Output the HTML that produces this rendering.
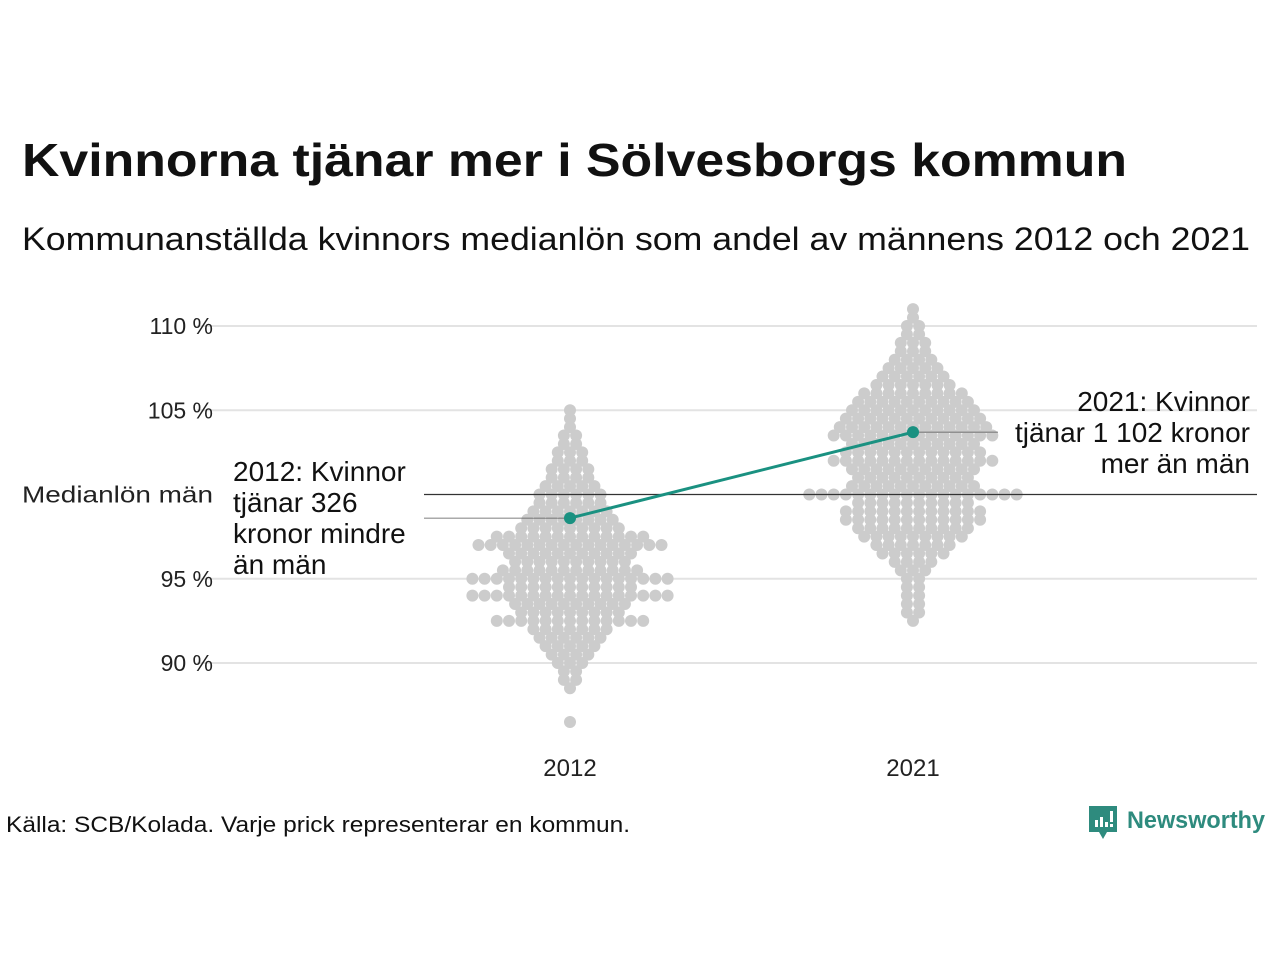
<!DOCTYPE html>
<html><head><meta charset="utf-8"><style>
html,body{margin:0;padding:0;background:#fff;}
svg{display:block;font-family:"Liberation Sans",sans-serif;}
</style></head><body>
<svg id="chart" width="1280" height="960" viewBox="0 0 1280 960">
<text x="22" y="176" font-size="46" font-weight="bold" fill="#111" textLength="1105" lengthAdjust="spacingAndGlyphs">Kvinnorna tjänar mer i Sölvesborgs kommun</text>
<text x="22" y="250" font-size="32" fill="#111" textLength="1228" lengthAdjust="spacingAndGlyphs">Kommunanställda kvinnors medianlön som andel av männens 2012 och 2021</text>
<g id="grid"></g>
<g id="dots"></g>
<g id="ann"></g>
<text x="6" y="832" font-size="22" fill="#111" textLength="624" lengthAdjust="spacingAndGlyphs">Källa: SCB/Kolada. Varje prick representerar en kommun.</text>
<g>
<path d="M1089 806 h28 v26 h-10 l-4 7 l-4 -7 h-10 z" fill="#2e8b7e"/>
<rect x="1095" y="820" width="3" height="7" fill="#fff"/><rect x="1100" y="817" width="3" height="10" fill="#fff"/><rect x="1105" y="822" width="3" height="5" fill="#fff"/><rect x="1110" y="811" width="3" height="11" fill="#fff"/><rect x="1110" y="824" width="3" height="3" fill="#fff"/>
<text x="1127" y="828" font-size="24" font-weight="bold" fill="#2e8b7e" textLength="138" lengthAdjust="spacingAndGlyphs">Newsworthy</text>
</g>
</svg>
<script>
const years = ["2012","2021"];
const rowValues2012 = [105,104.5,104,103.5,103,102.5,102,101.5,101,100.5,100,99.5,99,98.5,98,97.5,97,96.5,96,95.5,95,94.5,94,93.5,93,92.5,92,91.5,91,90.5,90,89.5,89,88.5,86.5];
const rowCounts2012 = [1,1,1,2,2,3,3,4,4,5,6,6,7,8,9,13,16,11,10,12,17,11,17,10,9,13,7,6,5,4,3,2,2,1,1];
const rowValues2021 = [111,110.5,110,109.5,109,108.5,108,107.5,107,106.5,106,105.5,105,104.5,104,103.5,103,102.5,102,101.5,101,100.5,100,99.5,99,98.5,98,97.5,97,96.5,96,95.5,95,94.5,94,93.5,93,92.5];
const rowCounts2021 = [1,1,2,2,3,3,4,5,6,7,9,10,11,12,13,14,11,12,14,11,10,11,18,10,12,12,10,9,7,6,4,3,2,2,2,2,2,1];
const medians = [98.6, 103.7];
const yTicks = [90,95,105,110];
const yTickLabels = ["90 %","95 %","105 %","110 %"];

const NS="http://www.w3.org/2000/svg";
const y = v => 494.5 + (100 - v) * 16.85;
const x = i => 570 + i * 343;
function mk(tag, attrs, parent){const e=document.createElementNS(NS,tag);for(const k in attrs)e.setAttribute(k,attrs[k]);parent.appendChild(e);return e;}
const grid=document.getElementById('grid'), dots=document.getElementById('dots'), ann=document.getElementById('ann');

yTicks.forEach((t,i)=>{
  const l=mk('line',{x1:197,x2:1257,y1:y(t),y2:y(t),stroke:'#e3e3e3','stroke-width':2},grid);
  
  
  const tx=mk('text',{x:213,y:y(t)+8,'font-size':23,'text-anchor':'end',fill:'#222'},grid);
  tx.textContent=yTickLabels[i];
  
  
});
const ml=mk('text',{x:213,y:y(100)+8,'font-size':23,'text-anchor':'end',fill:'#222',textLength:191,lengthAdjust:'spacingAndGlyphs'},grid);
ml.textContent='Medianlön män';


years.forEach((yr,i)=>{
  const t=mk('text',{x:x(i),y:776,'font-size':24,'text-anchor':'middle',fill:'#222'},grid);
  t.textContent=yr;
  
  
});

[[rowValues2012,rowCounts2012],[rowValues2021,rowCounts2021]].forEach((s,si)=>{
  s[0].forEach((v,ri)=>{
    const n=s[1][ri];
    for(let k=0;k<n;k++){
      const off=(k-(n-1)/2)*12.2;
      const c=mk('circle',{cx:x(si)+off,cy:y(v),r:6,fill:'#cccccc'},dots);
      
      
    }
  });
});

const ref=mk('line',{x1:424,x2:1257,y1:y(100),y2:y(100),stroke:'#333','stroke-width':1.3},ann);


const a1=mk('line',{x1:424,x2:x(0),y1:y(medians[0]),y2:y(medians[0]),stroke:'#555','stroke-width':0.8},ann);


const a2=mk('line',{x1:x(1),x2:998,y1:y(medians[1]),y2:y(medians[1]),stroke:'#555','stroke-width':0.8},ann);


const ln=mk('line',{x1:x(0),x2:x(1),y1:y(medians[0]),y2:y(medians[1]),stroke:'#1a9181','stroke-width':3},ann);


medians.forEach((m,i)=>{
  const c=mk('circle',{cx:x(i),cy:y(m),r:6,fill:'#1a9181'},ann);
  
  
});
const t1=["2012: Kvinnor","tjänar 326","kronor mindre","än män"];
t1.forEach((s,i)=>{const t=mk('text',{x:233,y:481+i*31,'font-size':28,fill:'#111'},ann);t.textContent=s;

});
const t2=["2021: Kvinnor","tjänar 1 102 kronor","mer än män"];
t2.forEach((s,i)=>{const t=mk('text',{x:1250,y:411+i*31,'font-size':28,fill:'#111','text-anchor':'end'},ann);t.textContent=s;

});
</script>
</body></html>
